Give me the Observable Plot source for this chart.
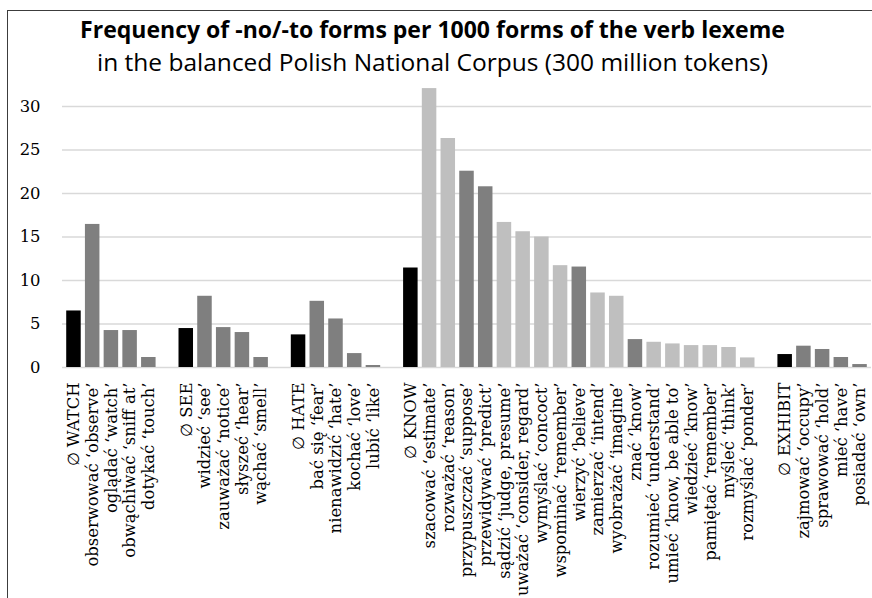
<!DOCTYPE html>
<html>
<head>
<meta charset="utf-8">
<script src="https://cdn.jsdelivr.net/npm/d3@7"></script>
<script src="https://cdn.jsdelivr.net/npm/@observablehq/plot@0.6"></script>
<style>
  html, body { margin: 0; padding: 0; background: #fff; }
  #wrap { position: relative; width: 872px; height: 598px; overflow: hidden; }
  #frame { position: absolute; left: 7px; top: 10px; width: 900px; height: 620px;
           border-left: 1.5px solid #3c3c3c; border-top: 1.5px solid #3c3c3c; }
  #header { position: relative; height: 80px; }
  .t { position: absolute; left: 0; width: 865px; text-align: center; white-space: nowrap;
       line-height: 22px; height: 22px;
       font-family: "Open Sans", "Noto Sans", sans-serif; color: #000; }
  #title { top: 18px; font-weight: 700; }
  #subtitle { top: 51px; font-weight: 400; }
  #chart { position: relative; }
</style>
</head>
<body>
<div id="wrap">
  <div id="frame"></div>
  <div id="header">
    <div class="t" id="title">Frequency of -no/-to forms per 1000 forms of the verb lexeme</div>
    <div class="t" id="subtitle">in the balanced Polish National Corpus (300 million tokens)</div>
  </div>
  <div id="chart"></div>
</div>
<script>
// ---- data ----
const groups = ["WATCH","WATCH","WATCH","WATCH","WATCH",
  "SEE","SEE","SEE","SEE","SEE",
  "HATE","HATE","HATE","HATE","HATE",
  "KNOW","KNOW","KNOW","KNOW","KNOW","KNOW","KNOW","KNOW","KNOW","KNOW","KNOW","KNOW","KNOW","KNOW","KNOW","KNOW","KNOW","KNOW","KNOW",
  "EXHIBIT","EXHIBIT","EXHIBIT","EXHIBIT","EXHIBIT"];

const verbs = [
  "∅ WATCH", "obserwować ‘observe’", "oglądać ‘watch’", "obwąchiwać ‘sniff at’", "dotykać ‘touch’",
  "∅ SEE", "widzieć ‘see’", "zauważać ‘notice’", "słyszeć ‘hear’", "wąchać ‘smell’",
  "∅ HATE", "bać się ‘fear’", "nienawidzić ‘hate’", "kochać ‘love’", "lubić ‘like’",
  "∅ KNOW", "szacować ‘estimate’", "rozważać ‘reason’", "przypuszczać ‘suppose’", "przewidywać ‘predict’",
  "sądzić ‘judge, presume’", "uważać ‘consider, regard’", "wymyślać ‘concoct’", "wspominać ‘remember’",
  "wierzyć ‘believe’", "zamierzać ‘intend’", "wyobrażać ‘imagine’", "znać ‘know’", "rozumieć ‘understand’",
  "umieć ‘know, be able to’", "wiedzieć ‘know’", "pamiętać ‘remember’", "myśleć ‘think’", "rozmyślać ‘ponder’",
  "∅ EXHIBIT", "zajmować ‘occupy’", "sprawować ‘hold’", "mieć ‘have’", "posiadać ‘own’"
];

const values = [
  6.5, 16.45, 4.25, 4.25, 1.15,
  4.48, 8.19, 4.59, 4.02, 1.15,
  3.75, 7.61, 5.58, 1.6, 0.23,
  11.44, 32.07, 26.33, 22.57, 20.78,
  16.68, 15.61, 15.0, 11.71,
  11.55, 8.57, 8.19, 3.21, 2.9,
  2.71, 2.52, 2.52, 2.3, 1.1,
  1.49, 2.45, 2.07, 1.15, 0.34
];

// ∅ = zero-marked base, A = dark grey class, B = light grey class
const kinds = [
  "∅","A","A","A","A",
  "∅","A","A","A","A",
  "∅","A","A","A","A",
  "∅","B","B","A","A","B","B","B","B","A","B","B","A","B","B","B","B","B","B",
  "∅","A","A","A","A"
];

const yTicks = [0, 5, 10, 15, 20, 25, 30];

// ---- build ----
const data = verbs.map((v, i) => ({verb: v, value: values[i], kind: kinds[i], group: groups[i]}));
const domain = [];
let gap = 0;
data.forEach((d, i) => {
  if (i > 0 && d.group !== data[i - 1].group) domain.push("__gap" + (gap++));
  domain.push(d.verb);
});

// fit header fonts to the reference widths
function fit(el, target, weight) {
  const c = document.createElement("canvas").getContext("2d");
  c.font = `${weight} 20px "Open Sans"`;
  const w = c.measureText(el.textContent).width;
  el.style.fontSize = (20 * target / w).toFixed(2) + "px";
}

const chart = Plot.plot({
  width: 872,
  height: 518,
  marginLeft: 62,
  marginRight: 1,
  marginTop: 0,
  marginBottom: 231,
  style: {fontFamily: "DejaVu Serif", fontSize: "16.4px", color: "#000", background: "transparent", overflow: "visible"},
  x: {domain, padding: 0.225, axis: null},
  y: {domain: [0, 33], axis: null},
  color: {domain: ["∅", "A", "B"], range: ["#000000", "#7f7f7f", "#bfbfbf"]},
  marks: [
    Plot.gridY(yTicks, {stroke: "#d9d9d9", strokeOpacity: 1, strokeWidth: 1.5}),
    Plot.axisY(yTicks, {tickSize: 0, tickPadding: 22, label: null, fill: "#000", fontSize: 16.4}),
    Plot.barY(data, {x: "verb", y: "value", fill: "kind"}),
    Plot.axisX({tickSize: 0, tickPadding: 15, tickRotate: -90, label: null, fill: "#000", fontSize: 16.4,
      tickFormat: d => d.startsWith("__gap") ? "" : d})
  ]
});
document.getElementById("chart").appendChild(chart);

document.fonts.ready.then(() => {
  fit(document.getElementById("title"), 705, 700);
  fit(document.getElementById("subtitle"), 671, 400);
});
fit(document.getElementById("title"), 705, 700);
fit(document.getElementById("subtitle"), 671, 400);
</script>
</body>
</html>
